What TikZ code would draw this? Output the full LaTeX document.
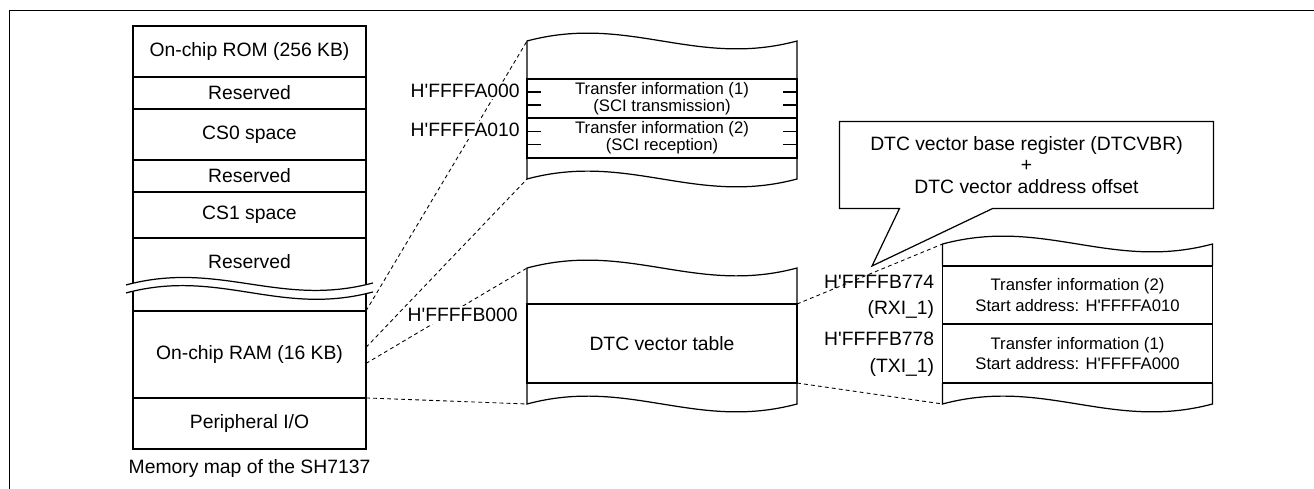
\documentclass[tikz,border=0pt]{standalone}
\usepackage{fontspec}
\setmainfont{Liberation Sans}
\usetikzlibrary{calc,chains,positioning,scopes}
\newcommand{\hq}{\textquotesingle}
\tikzset{
    big/.style = {
        font=\fontsize{11}{12.2}\selectfont,
        },
    small/.style = {
        font=\fontsize{9.5}{9.7}\selectfont,
        },
    addr/.style = {
        big,
        anchor=east,
        inner sep=1pt,
        },
    link/.style = {
        draw,
        dash pattern=on 2.2pt off 1.8pt,
        line width=0.5pt,
        },
    torn/.style = {
        out=15, in=195,
        },
    frame/.style = {
        line width=1.1pt,
        },
}

\begin{document}
\begin{tikzpicture}
            [
                x=0.02cm, y=-0.02cm,
                node distance = 0pt,
                line width=0.7pt,
                MemBlock/.style={draw, minimum width=4.66cm, outer sep=0pt, big, on chain},
                InfoBox/.style={draw, minimum width=5.4cm, outer sep=0pt, inner ysep=0pt, align=center},
                InfoBlock/.style={InfoBox, on chain},
            ]

            \useasboundingbox (0,0) rectangle (1314,489);
            \draw[frame] (9.5,489) -- (9.5,10.5) -- (1314,10.5);

            % memory map
            { [start chain = going below]
            \node [MemBlock, minimum height=1.02cm] (rom) at (249.5,51.5) {On-chip ROM (256 KB)};
            \node [MemBlock, minimum height=0.64cm] (rsv1) {Reserved};
            \node [MemBlock, minimum height=1.02cm] (cs0) {CS0 space};
            \node [MemBlock, minimum height=0.64cm] (rsv2) {Reserved};
            \node [MemBlock, minimum height=0.92cm] (cs1) {CS1 space};
            \node [MemBlock, minimum height=1.46cm, text height=0.28cm, text depth=0.5cm] (rsv3) {Reserved};
            \node [MemBlock, minimum height=1.74cm] (ram) {On-chip RAM (16 KB)};
            \node [MemBlock, minimum height=1.02cm] (pio) {Peripheral I/O};
            }
            \node [big, below=2.5pt of pio] (cap) {Memory map of the SH7137};

            \fill[white] ($(rsv3.south west)+(-7,-26)$) to[torn] ($(rsv3.south east)+(7,-28)$)
                -- ($(rsv3.south east)+(7,-19)$) to[out=195, in=15] ($(rsv3.south west)+(-7,-18)$) -- cycle;
            \draw ($(rsv3.south west)+(-7,-26)$) to[torn] ($(rsv3.south east)+(7,-28)$);
            \draw ($(rsv3.south west)+(-7,-18)$) to[torn] ($(rsv3.south east)+(7,-19)$);

            % transfer information
            { [start chain = going below]
            \node [InfoBlock, small, minimum height=0.78cm] (ti1) at (662,98.5) {Transfer information (1)\\(SCI transmission)};
            \node [InfoBlock, small, minimum height=0.8cm] (ti2) {Transfer information (2)\\(SCI reception)};
            }
            \draw (ti1.north west) -- ++(0,-38) coordinate (tiTL) to[torn] ++(270,0) -- (ti1.north east);
            \draw (ti2.south west) -- ++(0,21) coordinate (tiBL) to[torn] ++(270,0) -- (ti2.south east);
            \foreach \blk in {ti1,ti2}
                \foreach \f in {0.333,0.667}
                {
                    \draw ($(\blk.north west)!\f!(\blk.south west)$) -- ++(14,0);
                    \draw ($(\blk.north east)!\f!(\blk.south east)$) -- ++(-14,0);
                }

            % vector table
            \node [InfoBox, big, minimum height=1.58cm] (dtc) at (662,343.5) {DTC vector table};
            \draw (dtc.north west) -- ++(0,-36) coordinate (dtcTL) to[torn] ++(270,0) -- (dtc.north east);
            \draw (dtc.south west) -- ++(0,21) coordinate (dtcBL) to[torn] ++(270,0) -- (dtc.south east);

            { [start chain = going below]
            \node [InfoBlock, font=\fontsize{9.5}{11.9}\selectfont, minimum height=1.16cm] (vec2) at (1077.5,295) {Transfer information (2)\\Start address: H\hq FFFFA010};
            \node [InfoBlock, font=\fontsize{9.5}{11.9}\selectfont, minimum height=1.18cm] (vec1) {Transfer information (1)\\Start address: H\hq FFFFA000};
            }
            \draw (vec2.north west) -- ++(0,-22) coordinate (vecTL) to[torn] ++(270,0) -- (vec2.north east);
            \draw (vec1.south west) -- ++(0,21) coordinate (vecBL) to[torn] ++(270,0) -- (vec1.south east);

            \draw[link] (ram.north east) -- (tiTL);
            \draw[link] ($(ram.east)+(0,-7)$) -- (tiBL);
            \draw[link] ($(ram.east)+(0,9)$) -- (dtcTL);
            \draw[link] (ram.south east) -- (dtcBL);
            \draw[link] (dtc.south east) -- (vecBL);

            \node [addr, fill=white] (a000) at ($(ti1.west)+(-5,-8)$) {H\hq FFFFA000};
            \node [addr, fill=white] (a010) at ($(ti2.west)+(-5,-8)$) {H\hq FFFFA010};
            \node [addr, fill=white] (b000) at ($(dtc.north west)+(-7,11)$) {H\hq FFFFB000};

            \node [addr] (b774) at ($(vec2.north west)+(-6,16)$) {H\hq FFFFB774};
            \node [addr] (rxi) at ($(vec2.south west)+(-6,-14)$) {(RXI\_1)};
            \node [addr] (b778) at ($(vec1.north west)+(-6,15)$) {H\hq FFFFB778};
            \node [addr] (txi) at ($(vec1.south west)+(-6,-15)$) {(TXI\_1)};

            \draw[link] (dtc.north east) -- (vecTL);

            % callout
            \node [big, align=center, minimum width=7.46cm, minimum height=1.72cm] (vbr) at (1026.5,165)
                {DTC vector base register (DTCVBR)\\+\\DTC vector address offset};
            \coordinate (vbrtip) at (872,266);
            \draw (vbr.north west) -| (vbr.south east) -- ($(vbr.south west)+(153,0)$) -- (vbrtip)
                -- ($(vbr.south west)+(60,0)$) -- (vbr.south west) -- cycle;
        \end{tikzpicture}
\end{document}
